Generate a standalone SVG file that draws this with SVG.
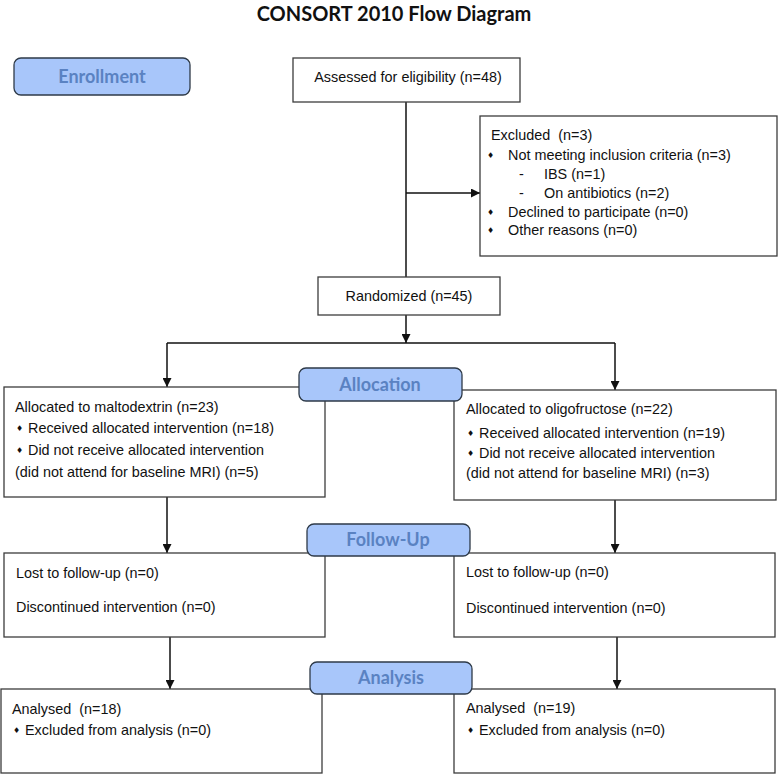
<svg xmlns="http://www.w3.org/2000/svg" width="781" height="774" viewBox="0 0 781 774">
<style>
.box{fill:#fff;stroke:#3c3c3c;stroke-width:1.3}
.lab{fill:#a8c6fa;stroke:#2e3a48;stroke-width:1.3}
.lt{font-family:Lato,"Open Sans",sans-serif;font-weight:bold;font-size:18px;fill:#5a82c2;text-anchor:middle}
.t{font-family:"Liberation Sans",Arial,sans-serif;font-size:14.4px;fill:#111}
.b{font-family:"DejaVu Sans",sans-serif;font-size:8px;fill:#111}
.c{text-anchor:middle}
.ln{stroke:#111;stroke-width:1.5;fill:none}
.ttl{font-family:Lato,"Open Sans",sans-serif;font-weight:bold;font-size:20px;fill:#111;text-anchor:middle}
</style>
<defs>
<marker id="ah" viewBox="0 0 10 10" refX="10" refY="5" markerWidth="9" markerHeight="9" markerUnits="userSpaceOnUse" orient="auto">
<path d="M0,0 L10,5 L0,10 z" fill="#111"/>
</marker>
</defs>
<text class="ttl" x="394" y="21">CONSORT 2010 Flow Diagram</text>

<g id="connectors">
<line class="ln" x1="406" y1="102" x2="406" y2="277"/>
<line class="ln" x1="406" y1="193" x2="480" y2="193" marker-end="url(#ah)"/>
<line class="ln" x1="406" y1="315" x2="406" y2="343" marker-end="url(#ah)"/>
<line class="ln" x1="167" y1="343" x2="615" y2="343"/>
<line class="ln" x1="167" y1="343" x2="167" y2="387" marker-end="url(#ah)"/>
<line class="ln" x1="615" y1="343" x2="615" y2="390" marker-end="url(#ah)"/>
<line class="ln" x1="167" y1="497" x2="167" y2="553" marker-end="url(#ah)"/>
<line class="ln" x1="615" y1="500" x2="615" y2="553" marker-end="url(#ah)"/>
<line class="ln" x1="170" y1="637" x2="170" y2="689" marker-end="url(#ah)"/>
<line class="ln" x1="617" y1="637" x2="617" y2="689" marker-end="url(#ah)"/>
</g>

<g id="assessed">
<rect class="box" x="293" y="58" width="227" height="44"/>
<text class="t c" x="408" y="82">Assessed for eligibility (n=48)</text>
</g>

<g id="excluded">
<rect class="box" x="480" y="116" width="297" height="140"/>
<text class="t" x="491" y="140">Excluded&#160; (n=3)</text>
<text class="b" x="487" y="158">♦</text><text class="t" x="508" y="160">Not meeting inclusion criteria (n=3)</text>
<text class="t" x="519" y="179">-</text><text class="t" x="544" y="179">IBS (n=1)</text>
<text class="t" x="519" y="198">-</text><text class="t" x="544" y="198">On antibiotics (n=2)</text>
<text class="b" x="487" y="215">♦</text><text class="t" x="508" y="217">Declined to participate (n=0)</text>
<text class="b" x="487" y="233">♦</text><text class="t" x="508" y="235">Other reasons (n=0)</text>
</g>

<g id="randomized">
<rect class="box" x="318" y="277" width="182" height="38"/>
<text class="t c" x="409" y="301">Randomized (n=45)</text>
</g>

<g id="alloc-left">
<rect class="box" x="4" y="387" width="321" height="110"/>
<text class="t" x="15" y="412">Allocated to maltodextrin (n=23)</text>
<text class="b" x="16" y="431">♦</text><text class="t" x="28" y="433">Received allocated intervention (n=18)</text>
<text class="b" x="16" y="453">♦</text><text class="t" x="28" y="455">Did not receive allocated intervention</text>
<text class="t" x="15" y="477">(did not attend for baseline MRI) (n=5)</text>
</g>

<g id="alloc-right">
<rect class="box" x="454" y="390" width="322" height="110"/>
<text class="t" x="466" y="414">Allocated to oligofructose (n=22)</text>
<text class="b" x="467" y="436">♦</text><text class="t" x="479" y="438">Received allocated intervention (n=19)</text>
<text class="b" x="467" y="456">♦</text><text class="t" x="479" y="458">Did not receive allocated intervention</text>
<text class="t" x="466" y="478">(did not attend for baseline MRI) (n=3)</text>
</g>

<g id="follow-left">
<rect class="box" x="4" y="553" width="321" height="84"/>
<text class="t" x="16" y="578">Lost to follow-up (n=0)</text>
<text class="t" x="16" y="612">Discontinued intervention (n=0)</text>
</g>

<g id="follow-right">
<rect class="box" x="454" y="553" width="321" height="84"/>
<text class="t" x="466" y="577">Lost to follow-up (n=0)</text>
<text class="t" x="466" y="613">Discontinued intervention (n=0)</text>
</g>

<g id="analysis-left">
<rect class="box" x="1" y="689" width="321" height="84"/>
<text class="t" x="12" y="714">Analysed&#160; (n=18)</text>
<text class="b" x="13" y="733">♦</text><text class="t" x="25" y="735">Excluded from analysis (n=0)</text>
</g>

<g id="analysis-right">
<rect class="box" x="454" y="689" width="321" height="84"/>
<text class="t" x="466" y="713">Analysed&#160; (n=19)</text>
<text class="b" x="467" y="733">♦</text><text class="t" x="479" y="735">Excluded from analysis (n=0)</text>
</g>

<g id="enrollment-label">
<rect class="lab" x="14" y="58" width="176" height="37" rx="7"/>
<text class="lt" x="102" y="83">Enrollment</text>
</g>
<g id="allocation-label">
<rect class="lab" x="299" y="368" width="163" height="33" rx="7"/>
<text class="lt" x="380" y="391">Allocation</text>
</g>
<g id="followup-label">
<rect class="lab" x="307" y="524" width="163" height="32" rx="7"/>
<text class="lt" x="388" y="546">Follow-Up</text>
</g>
<g id="analysis-label">
<rect class="lab" x="310" y="662" width="162" height="32" rx="7"/>
<text class="lt" x="391" y="684">Analysis</text>
</g>
</svg>
